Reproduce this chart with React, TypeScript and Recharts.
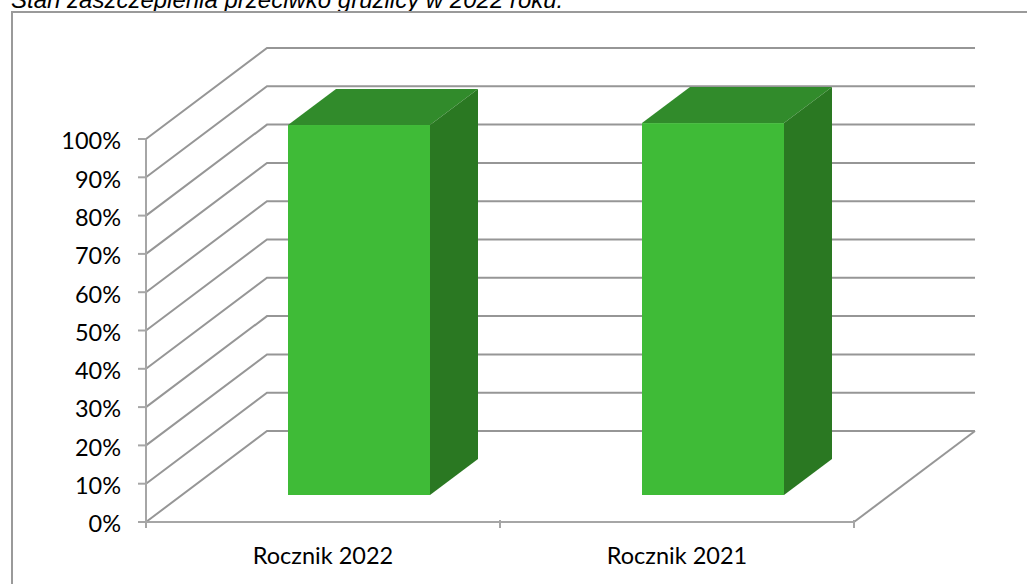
import { BarChart, Bar, XAxis, YAxis, CartesianGrid } from 'recharts'

const categories = ['Rocznik 2022', 'Rocznik 2021']
const values = [96.6, 97.1]
const yTicks = [0, 10, 20, 30, 40, 50, 60, 70, 80, 90, 100]

const data = categories.map((name, i) => ({ name, value: values[i] }))

const WALL_DX = 121
const WALL_DY = -91
const BAR_DX = 36
const BAR_DY = -27
const DEPTH_DX = 48
const DEPTH_DY = -36

const GRID = '#969696'
const AXIS = '#a6a6a6'

// siatka w 3D: skos po lewej i linia na tylnej scianie
const WallLine = ({ x1, y1, x2, index }: any) => {
  const isFloor = index === 0
  return (
    <g>
      <polyline
        points={`${x1},${y1} ${x1 + WALL_DX},${y1 + WALL_DY} ${x2 + WALL_DX},${y1 + WALL_DY}`}
        fill="none" stroke={GRID} strokeWidth={2}
      />
      {isFloor && (
        <line x1={x2} y1={y1} x2={x2 + WALL_DX} y2={y1 + WALL_DY} stroke={GRID} strokeWidth={2} />
      )}
    </g>
  )
}

const Box = ({ x, y, width, height }: any) => {
  const l = x + BAR_DX
  const r = l + width
  const t = y + BAR_DY
  const b = t + height
  return (
    <g>
      <path d={`M${l},${t} L${l + DEPTH_DX},${t + DEPTH_DY} L${r + DEPTH_DX},${t + DEPTH_DY} L${r},${t} Z`} fill="#318b2b" />
      <path d={`M${r},${t} L${r + DEPTH_DX},${t + DEPTH_DY} L${r + DEPTH_DX},${b + DEPTH_DY} L${r},${b} Z`} fill="#2a7822" />
      <rect x={l} y={t} width={width} height={height} fill="#3fbb37" />
    </g>
  )
}

// kreski osi X sa na granicach kategorii, nie na srodku
const CategoryTick = ({ x, y, width, visibleTicksCount, index, payload }: any) => {
  const half = width / visibleTicksCount / 2
  const top = y - 8
  return (
    <g>
      <line x1={x - half} y1={top} x2={x - half} y2={top + 8} stroke={AXIS} strokeWidth={2} />
      {index === visibleTicksCount - 1 && (
        <line x1={x + half} y1={top} x2={x + half} y2={top + 8} stroke={AXIS} strokeWidth={2} />
      )}
      <text x={x} y={top + 44} textAnchor="middle" fill="#000" fontSize={23.5}>{payload.value}</text>
    </g>
  )
}

export default function App() {
  return (
    <div style={{ position: 'absolute', left: 0, top: 0, width: 1027, height: 584, overflow: 'hidden', background: '#fff' }}>
      <div
        style={{
          position: 'absolute', left: 11, top: -12, fontFamily: 'Liberation Sans', fontStyle: 'italic',
          fontSize: 24, lineHeight: '24px', color: '#000', whiteSpace: 'nowrap',
        }}
      >
        Stan zaszczepienia przeciwko gruźlicy w 2022 roku.
      </div>
      <div
        style={{
          position: 'absolute', left: 11, top: 11, width: 1040, height: 600,
          border: '2px solid #9a9a9a', boxSizing: 'border-box',
        }}
      />
      <div style={{ position: 'absolute', left: 0, top: 0 }}>
        <BarChart
          width={1027}
          height={584}
          data={data}
          margin={{ top: 139, right: 173, bottom: 0, left: 0 }}
          barCategoryGap={0}
          style={{ fontFamily: 'Lato' }}
        >
          <CartesianGrid vertical={false} horizontal={<WallLine />} />
          <XAxis
            dataKey="name"
            height={62}
            stroke={AXIS}
            strokeWidth={2}
            tickLine={false}
            tickMargin={0}
            interval={0}
            tick={<CategoryTick />}
          />
          <YAxis
            domain={[0, 100]}
            ticks={yTicks}
            width={146}
            stroke={AXIS}
            strokeWidth={2}
            tickSize={8}
            tickMargin={17}
            tickFormatter={v => `${v}%`}
            tick={{ fill: '#000', fontSize: 23.5, dy: 2 }}
          />
          <Bar dataKey="value" barSize={142} shape={<Box />} isAnimationActive={false} />
        </BarChart>
      </div>
    </div>
  )
}
